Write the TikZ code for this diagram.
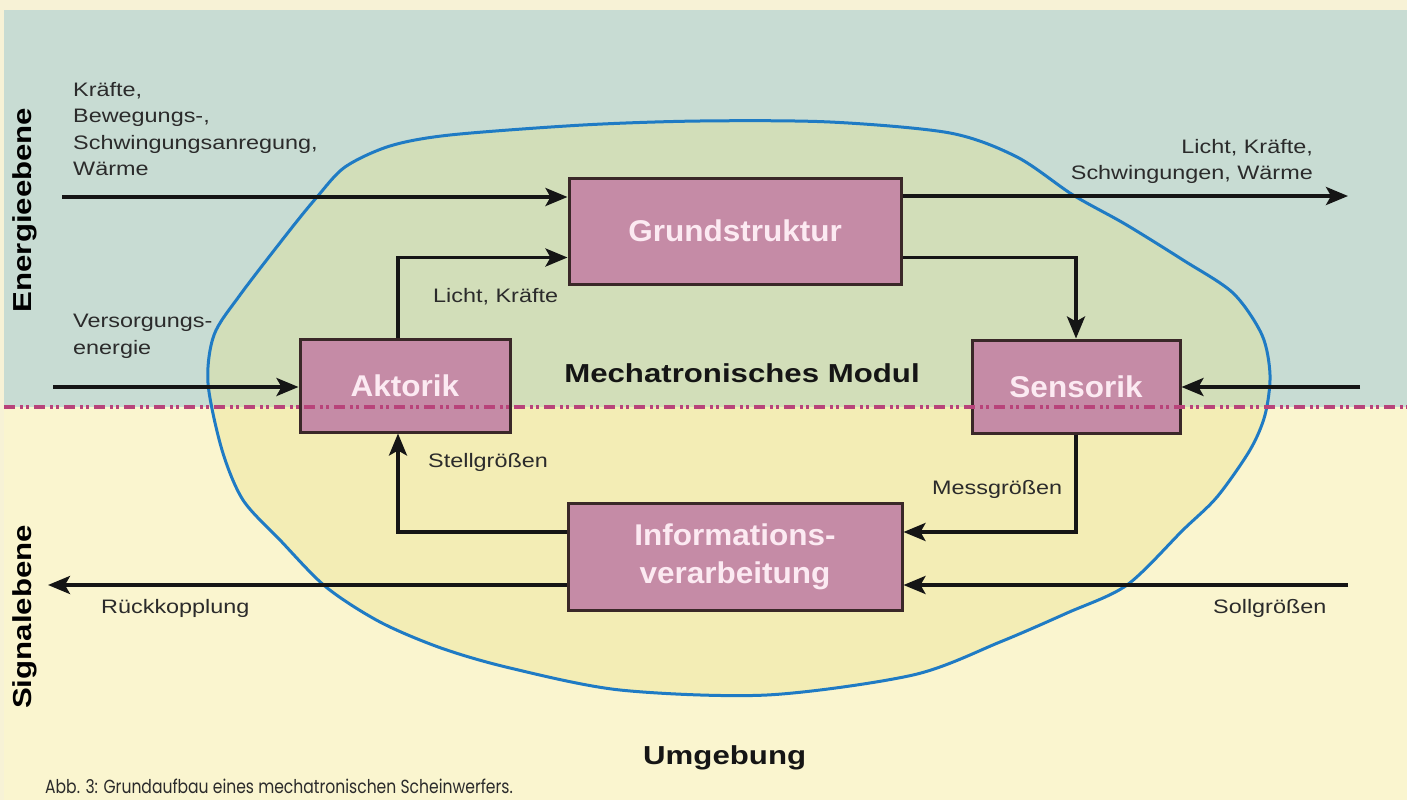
\documentclass[tikz,border=0pt]{standalone}
\usepackage{fontspec}
\setmainfont{Liberation Sans}[FakeStretch=1.2]
\newfontfamily\boxfont{Liberation Sans}[FakeStretch=1.05]
\newfontfamily\capfont{Poppins}[FakeStretch=0.82]
\usetikzlibrary{arrows.meta}

\definecolor{framec}{HTML}{F7F2D6}
\definecolor{topbg}{HTML}{C8DCD3}
\definecolor{botbg}{HTML}{FAF5CF}
\definecolor{modtop}{HTML}{D2DEB9}
\definecolor{modbot}{HTML}{F3EDB5}
\definecolor{boxfill}{HTML}{C58BA6}
\definecolor{boxline}{HTML}{3A2828}
\definecolor{boxtext}{HTML}{FCEAF2}
\definecolor{bluec}{HTML}{1F7BC4}
\definecolor{arrowc}{HTML}{151515}
\definecolor{labelc}{HTML}{2B2B2B}
\definecolor{dashc}{HTML}{B8437A}

\tikzset{
  blockbox/.style={draw=boxline, line width=3pt, fill=boxfill, inner sep=0pt,
    text=boxtext, align=center, font=\boxfont\bfseries\fontsize{30}{38}\selectfont},
  flow/.style={draw=arrowc, line width=3.5pt, -{Stealth[length=22pt,width=18pt,inset=5pt]}},
  lbl/.style={text=labelc, inner sep=0pt, font=\fontsize{19.5}{26.5}\selectfont},
  side/.style={text=black, inner sep=0pt, rotate=90, font=\bfseries\fontsize{26}{30}\selectfont},
  ebenenline/.style={draw=dashc, line width=3.5pt, dash pattern=on 11pt off 5pt on 3pt off 3pt on 3pt off 5pt},
}

\newcommand{\modulpath}{plot[smooth cycle] coordinates {
  (208,383) (214,335) (240,295) (290,230) (317,197) (345,167) (390,146) (450,135)
  (583,125) (700,121) (830,122) (950,133) (1017,157) (1073,195) (1125,224)
  (1183,260) (1233,293) (1262,335) (1270,375) (1265,415) (1250,450) (1217,497)
  (1183,530) (1127,585) (1067,613) (1000,642) (913,675) (767,695) (620,690)
  (510,668) (441,648) (380,622) (326,587) (280,540) (243,500) (222,450)}}

\begin{document}
\begin{tikzpicture}[x=1pt,y=-1pt]

	\useasboundingbox (0,0) rectangle (1407,800);

	% Ebenen
	\fill[framec] (0,0) rectangle (1407,800);
	\fill[topbg] (4,10) rectangle (1407,407);
	\fill[botbg] (4,407) rectangle (1407,800);

	% Modul
	\begin{scope}
		\clip \modulpath;
		\fill[modtop] (0,0) rectangle (1407,407);
		\fill[modbot] (0,407) rectangle (1407,800);
	\end{scope}
	\draw[bluec, line width=3pt] \modulpath;

	\node[side] (energie) at (25,210) {Energieebene};
	\node[side] (signal) at (25,617) {Signalebene};

	\node[blockbox, minimum width=332pt, minimum height=106pt] (grund) at (735,231) {Grundstruktur};
	\node[blockbox, minimum width=210pt, minimum height=93pt] (akt) at (405,385.5) {Aktorik};
	\node[blockbox, minimum width=208pt, minimum height=93pt] (sens) at (1076,386.5) {Sensorik};
	\node[blockbox, minimum width=334pt, minimum height=107pt] (info) at (735,556.5) {Informations-\\verarbeitung};

	\node[font=\bfseries\fontsize{26}{30}\selectfont, text=arrowc, inner sep=0pt] (modul) at (742,373) {Mechatronisches Modul};
	\node[font=\bfseries\fontsize{26}{30}\selectfont, text=arrowc, inner sep=0pt, anchor=west] (umgeb) at (643,758) {Umgebung};

	% Energieebene
	\coordinate (kin) at (62,197);
	\coordinate (kout) at (1348,196);
	\coordinate (vin) at (53,387);
	\coordinate (sin) at (1360,387);
	\draw[flow] (kin) -- (kin -| grund.west);
	\draw[flow] (kout -| grund.east) -- (kout);
	\draw[flow] ([xshift=-7pt]akt.north) |- ([yshift=-26.5pt]grund.west);
	\draw[flow] ([yshift=-26.5pt]grund.east) -| (sens.north);
	\draw[flow] (vin) -- (vin -| akt.west);
	\draw[flow] (sin) -- (sin -| sens.east);

	% Signalebene
	\coordinate (soll) at (1348,585);
	\coordinate (rueck) at (48,585);
	\draw[flow] (sens.south) |- ([yshift=24.5pt]info.east);
	\draw[flow] ([yshift=24.5pt]info.west) -| ([xshift=-7pt]akt.south);
	\draw[flow] (soll) -- (soll -| info.east);
	\draw[flow] (rueck -| info.west) -- (rueck);

	\draw[ebenenline] (4,407) -- (1407,407);

	\node[lbl, anchor=north west, align=left] (kraefte) at (73,82) {Kräfte,\\Bewegungs-,\\Schwingungsanregung,\\Wärme};
	\node[lbl, anchor=north west, align=left] (versorg) at (73,314) {Versorgungs-\\energie};
	\node[lbl, anchor=north east, align=right] (licht) at (1313,139) {Licht, Kräfte,\\Schwingungen, Wärme};
	\node[lbl, anchor=west] (lichtk) at (433,297) {Licht, Kräfte};
	\node[lbl, anchor=west] (stell) at (428,462) {Stellgrößen};
	\node[lbl, anchor=west] (mess) at (932,489) {Messgrößen};
	\node[lbl, anchor=west] (sollg) at (1213,608) {Sollgrößen};
	\node[lbl, anchor=west] (rueckk) at (101,608) {Rückkopplung};

	\node[anchor=west, inner sep=0pt, text=labelc, font=\capfont\fontsize{19}{22}\selectfont] (caption) at (45,786) {Abb. 3: Grundaufbau eines mechatronischen Scheinwerfers.};

\end{tikzpicture}
\end{document}
